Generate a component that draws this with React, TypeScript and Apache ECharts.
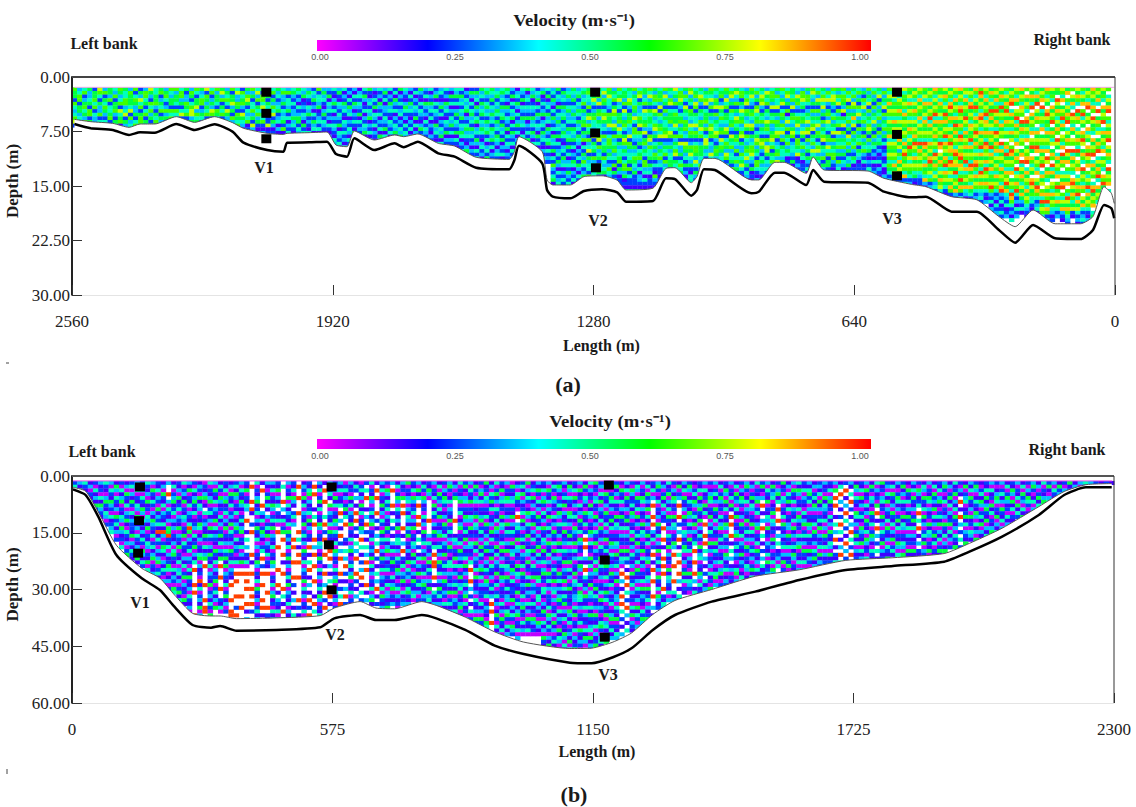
import React, { useEffect, useRef } from "react";
import * as echarts from "echarts";

const SERIF = '"Liberation Serif", serif';

// ---- axes ----
const depthStepA = 7.5;
const depthStepB = 15;
const lengthStepA = 640;
const lengthStepB = 575;
const depthMaxA = 30;
const depthMaxB = 60;
const lengthMaxA = 2560;
const lengthMaxB = 2300;
const scaleTicks = ["0.00", "0.25", "0.50", "0.75", "1.00"];

// ---- panel (a): bed profile ----
const bedLenA = [2554,2514,2460,2420,2393,2357,2304,2259,2210,2166,2139,2081,2041,2032,1978,1934,1912,1885,1867,1818,1768,1746,1711,1661,1621,1568,1487,1474,1463,1406,1394,1380,1337,1303,1259,1222,1200,1134,1102,1080,1040,1026,1009,982,892,874,835,812,758,741,714,606,567,500,464,401,339,285,245,201,147,85,54,27,9,2];
const bedDepthA = [6.47,7.06,7.29,7.98,7.61,7.66,6.47,7.29,6.51,7.52,9.04,10.05,10.27,9.04,8.99,8.9,10.6,10.96,8.44,10.05,9.13,9.68,8.9,10.5,10.96,12.48,12.7,11.42,9.45,11.88,15.55,16.47,16.7,15.69,15.46,15.87,17.16,17.06,13.94,14.04,16.33,15.55,12.7,12.8,16.0,15.78,13.16,13.16,14.86,12.8,14.4,14.54,15.78,16.56,16.47,18.53,18.53,21.05,22.8,20.37,22.2,22.3,21.05,17.6,18.07,19.45];
const edgeDepthA = [5.83,6.15,6.38,6.93,6.47,6.47,5.46,6.24,5.46,6.28,7.06,7.75,7.9,7.75,7.66,7.57,9.36,9.59,7.43,8.67,7.98,8.21,7.84,9.13,9.5,11.05,11.33,10.27,8.21,10.27,14.17,14.86,14.86,13.7,13.6,14.2,15.55,15.3,12.57,12.48,14.54,13.7,11.2,11.2,14.17,14.17,11.74,11.74,13.25,11.0,12.8,12.94,13.94,14.77,15.1,16.47,16.9,19.2,20.6,18.3,20.2,20.2,19.2,15.1,16.0,17.4];

// ---- panel (b): bed profile ----
const bedLenB = [2,30,58,98,154,194,226,266,307,327,363,451,548,579,636,671,712,772,804,868,933,997,1099,1147,1194,1235,1282,1331,1412,1508,1605,1708,1812,1925,1981,2053,2134,2190,2238,2295];
const bedDepthB = [3.52,5.02,10.75,20.88,27.05,30.13,34.54,39.38,40.08,39.65,40.88,40.7,40.0,37.62,36.74,38.06,38.06,36.74,37.62,40.7,44.84,47.05,49.34,49.5,47.9,45.55,40.7,36.74,33.2,30.57,27.5,24.84,23.79,22.64,20.0,16.03,10.3,5.02,3.0,3.0];
const edgeDepthB = [3.0,4.0,9.5,18.3,24.4,27.0,31.4,36.3,37.0,37.0,37.7,37.5,36.9,34.9,33.2,34.9,35.1,33.2,34.2,37.3,41.2,43.9,45.6,45.5,43.9,41.5,36.6,32.9,30.0,26.5,24.8,22.3,21.6,20.5,17.8,13.8,8.1,4.1,2.3,2.0];

// ---- sampling stations ----
const stationsA = [[2083,2.1],[2083,5.0],[2083,8.5],[1276,2.1],[1276,7.7],[1274,12.5],[535,2.1],[535,7.9],[535,13.6]];
const stationsB = [[150,2.9],[148,11.8],[146,20.4],[573,2.9],[567,18.2],[573,30.1],[1185,2.4],[1176,22.2],[1176,42.6]];
const surfaceA = [[2554,1.42],[2,1.42]];
const surfaceB = [[2,1.3],[2296,1.3]];

// ---- velocity cells, one token per vertical, top to bottom, ten verticals a line.
// digit d is the decile of speed (0 = 0.0-0.1 m/s ... 9 = 0.9-1.0 m/s); "." = no data
const cellsA = `
65526434672 34662553421 46235645362 53345266251 25564624335 76425336244 36254653241 55362445623 43625563254 65346274561
54466347253 36555472634 62465335246 25374625664 36645246253 75326463527 44556325462 56235462534 35642363526 64355264632
63554264352 46635247261 52336546253 36524677352 64255736452 53466235425 72653546235 46235376254 63554265345 57362546241
35464275346123 62557352634121 47336526546231 26456327543125 53675243461235 63524463527341 47362546352134 52664735462132 63525436227123 46253647253121
53423452341312 46335243452612 36244352413241 45324233534213 54231423552431 43512324315242 35421435232143 24352314253412 62443512342413 35342135243212
325143423142132415 421352413243214321 352143243251432411 413253421432423142 231425341324314233 314253132421531424 134243251423231422 425312413243513243 521342435132413214 312425143241321432
4231532413241532 3524133243251423 4132534214324121 2415324132435141 5132423413243514 4321354231424352 3142534213241353 2413243251413241 5321424321352431 3241532314243252
413253424132132413241 235142432153421432134 342135241324351423514 423153421432513241521 315241324352413214533 435241352432514213242 425342435243541324312 132434513245342135421 253142453425342313241 253415324513425314243
534253452435421342311 453245342534524134252 543524353425435241323 345243542534254313421 453425345253425132412 542315324325142431321 325142435142532414233 134253142352413242132 432514325342143214321 513424325132425314214
435124325342531424133 243514253243152413241 351242351342534213241 425134253415324514232 342531425324153425142632451 524315243534251423425314234 253425345243542134253413242 345324533425345252413425324 543524353425435241325413241 345243542534254313242531423
453462534562536142536423532143 564436257364526347253442612143 365742356443672545263524412143 546372563544367263452635222143 473652467534263455264345122143 657443265573246653542364322143 354625764375263456342615232143 645734255637462534456253122143 455362743564257635424663512143 544763255643372653445262422143
635446537426643253465435222143 467253346572643524563241332143 553462744563725635426634142143 647352645543267364452534122143 536642753467352453652421632143 455637264356472535463422122143 637452635445672354626343122143 543672455634762353445526322143 745362465574263546725443132143 466753245635462733524645212143
53642754365634276534252311 67354265437465236574352144 45637625447365246653742532 54763254365746235554363412 35467245563624775342643214 65473625346756243374562321 54365726354476325653473412 45623754643562746534326315 65374625543762465376244232 46735264456327546344526251
57436253764525643624635231 46625374563467253364574212 35467265347526435647352431 65743256437625346674325121 46352674563245763542664213 54767325463542676324534312 37546254375642637752434221 46653725463356746254635312 53644725365476234563741231 64357246536473625443552312
46735261473625463541234121 55463725643576234432511245 43756324657342665471232413 36674524563475246354122413 53664235473672634525324133 67435263546725463745234132 46375263547365246735412323 54674735263546725436253123 36473256374425637462552432 64775324635472635466321244
53647263546273546352634412 64665371547263546352431342 36472635463527463524352123 54637635847263546325412132 46352647352635462543122413 35264735463526354632412134 63547263546752634521324312 46352635473526354231412341 54726354635263452312413214 36354726354635241231241132
64758576475658476576465423132 65746576485765476576485762134 56476586475764857364857642312 74657648576576485796576482413 65748576475864759657476542312 57647586475768597648576452132 76485765847576495867576432214 65748657486576498576485648312 57648576948576486758965746231 86475769485768576497586475342
65748657486576498.75864758674234 75864759685769486758694867542132 57648975864758697864985747586213 76485764859685764896785946758321 85764896758649857689587469586243 67485765976485768576948467584312 57648957648756948576498576485423 86475964857697586475896485764231 69857648976485769485764975864342 76485769487586498675849675864213
58647596857486759486758465796324132423 67584697586497586847576485764231423314 75864957648576.948576485764893241242 64758697586475.684957648679584324123 57689.485764857.69857648.576498642314 76485.7694857648.7586.94758694231423 85764876.9586476.58.947586475853241 6.85764.8957648.57689.48576485764321 758649.857648.7695.86475.8975644213 64859.7586.4857698.57648.75986423412
5768.9457648.576485769.4857.68495764242 86475.897564857648.97.5864.75869486231 7564.85769.58647.586.9485.76485764312 65.9758647586.975.4857648.6957485423 7648.5769485.7648.9586.47589.64758321 58.6475869.47586.9758.64758.6497586432 6.7584.976485.76.9485764.89758645721 75864.9586.47586495.768.47586948574231 64758.69475.8697.5864.9576486.75842342 576489.576.8475.869758.64759485764213
8675486.97564.85769.48576.4895768.45 67584.9.58647.5869.4758694.85764.83 7564.85769.4857648.5764.8695.74864 6.47589.6475869.75864.95768.47586324
`;
const cellsB = `
24 315 4213 130214 20413152 3120415321 421035214302 30421532041234 1530421305241302 204135021430531204
13052140325104213025 240315204132215031421 3140214305213042130251 21304215304213142053142 421305120431502143021504 3052142031532140241350213 21403205132419142031350241 1305214032141930254103142031 3..9.3042130559214031254013021 140235124031302130452104132054
21305124032150321502140341302514 402315021430215042103140250312051 31502140321495031240320415213042130 2041352140123041250314.9...9.9.....9 132051430215401302145031209140231503 0213501.4023115204135.9....9...9.99 402135024130514203152140321502314205 3052140321504132105214031250241305 142053120413025140315.9..9..9..2140 21403512403150213042515032140251302
13052140231504213052140321.9...9..99.2 24153021401352041320140.9.9...9..2.9.1 30421531024135021403150.9.....9..9...4 21502143..9..1.4.3.2140.9.9.9...9.1.32 .9...9.91..2.9.....9.1..9...9.9.9.2... 40213512403152140302153021405213024132 1.9...9.31402531024.9.2.9..9...9.9.1.4 31025141.30241503214021.9....9...9.21.4 31402153024150321402153.0214035120413 2150314.2140.9...9.....9...9.1.32140351
.4...9.3.14025.9...9.1..9...9.4.1.9.3.2 30215041321405231402513024150321403125.3 2140531.2403...9.9...9...9.2.1.3.1.4023 .9..9...9....9.4.1.9.9...9.....9.2.1.4. 1320514032150241305214032150413021403251 2145031240513021.9.1.4.9.1.3.1.9.2.9.1.4 .9.9...1.4.9...9.3.9..9...9...1.9.4.2.1 31402514021530214301520413024153021402 1.9..9...4.9.2.9...9..1.9..3.9.2.9...9 30241.50321405213.9.9.3.1.4.2.9.1.3.2.1
2130514021530421405312041350241302140 3140214.9.3.1.9.2.3.9...9.1.2.4.9.1.3 0241302514.9...21.4.3.9.2.1.3.9.2.1.4 31205140321502140351024135021402150 142.3.1.9.9.2.1.4.3.9...9.2.1.3.4.2 02413051402153.9.4.1.2.3.9.1.4.2.1 2.4.9..1.3.9.2.1.4.3.9.9...9.1.3.4 402153024135021402315041302140351 1.9.9...9.2.1.3.4.9.2.1.4.3.9.1.2 3140215130420514203152140321405213
2053142403115204135031240214033125 3.9...9.1.4.2.1.31402512041350213 1402530421315024413042153102403120 31205.9.9...9.1.3.9.2140325104123 502134031431425021311504230145213 21405312403150214305142031521340 30514.9..9.9.1.4.2.14031502413021 14205312041305124031502140352132 21530.....9...3042130514203150341 302140514203152014.9.99..9.1.4213
14052304150213502413052140315241302 20315420130521403215024130521320412 35201403215024130520144032131502413 13025.....9...143021504130241503214052 40213502401350214052314025134021350213 25103402153024150312405130241350412031 3042150214305120431204.9..9.3.2.1.4021305 15203401250431205140321405121304213052 20351402135024130514203514031220413052134 51204302140521304251031420531240132105421
1304251402130514023150421302413.9.9..9..142 40251304214053120514032150140241301520413 21503412051430214051304215302120413052140 30215402130514203150214305214133014520413 05213402150314205134021530412215031420532 13045210.9.3421504312051430215024135021403 24150312405130241503214052132140351204130 50314201530421502143051204151320413052140 12405130421503140251304215032301412053120 31520413052140312504130215402144031205310
214035204130521430512403512044103152041305214 305214031502413052140310524130221405314203152 142053120413052140513024215034030214051302415 253102415304213051403210524131352041320514302 310241503124051230421503215041425031402153041 153042105413025140312504130251212053140231504 214051302410532150413021504312330415021403125 305120413052140531204153021405441302140521320 15204310521402.9.9..31.9.4213052140312041530 403120514302153041205140321504320415213405132
51203412051304215031240531025142130521403125 23041503214052130421504213021405132014520341 1405213052140315024130521403152402150341205 310254130251402153042130521403124013502413 251304120514302143051240315021330421502143 10521403152140312051430.9.3.1.9.9.4.2.1.3 3140521302514031205142.1.9.9.4.2.9.3.1.4 2053124153021405130421305124031204150321 143052140513024150321405213042130514203 30215403120514302150413021405132104253
1405231504130251402135021430512403125 21403.9..9.9.31402.9.1.9..9...9..3.1 3520140213052140315024130521405312 13025140312.9..9.1..9.9.9...9.2143 41250314052130421503120514321403 203154120514302153.9..9...9..413 15023.9..9.2.3.9.1.4.9..9.3.1.42 314052130512043125401302514021 253014215304130512403120514320 10241530241503124.9..9..9.3.14
214051352150314205134021530412 3041205140.9..9.9.4.3.1.2.413 20135402150314205130213041205 3024130521403120514213014503 1402531204135024130214035102 2153051402153042130531240132 30214051.9.9..9.1.4.3.13021 140523041502135024132014503 20315420130521403215132014 35201403215024130520214301
13025143021504130241302514 4021350240135021405213041 25103.9.1.3.9.4.1.2.3.412 3042150214305120321405123 1523401250431205130214053 203514.9..9.1.3.4.12304 512043021405213124031502 130425140213305214031250 305214032140513024153021 415302140531204135021403
214032104135024130521403 31452403021530412051320 13024153021405213042513 23140513024150312405132 3120514321403052140312 2140351204130521430512 305.9.9..1.4.3.9.1.214 14.9.3.1.2.9.4.1.3.9.4 2.9.1.3.9.4.2.1.9.3.2 31.4.9.2.1.3.9.4.2.9.
153042105413025140312 214051302410532150413 305120413052140531204 152043105214025310421 4031205.9.1.9.3.2.4.1 512034120513042150312 230415032140521304215 14052130521403150241 31025413025140215304 25130412051430214305
10521403152140312051 31405213025140312051 2053124.9.4.9.1.3.21 14305214051302415032 30215403120514302150 14052315041302514021 21403510241503140251 3520140213052140315 130251403125041302 412503140521304215
2031.9.1.9.3.2.4.2 15023401251403215 3140521305120431 2530142153041305 102415302415031 214051352150314 30412051402135 20135402150314 3024130521403 140253120413
21530514021 3021405142 1405230415 203154201 35201403 1302514 402135 251034 30421 1523
203 512 130 30 41 3 2 1 2 1
`;

const token = (s: string) => s.trim().split(/\s+/);
const columnsA = token(cellsA);
const columnsB = token(cellsB);

function buildCells(cols: string[], firstLen: number, stepLen: number, top: number, stepDepth: number) {
  const out: number[][] = [];
  cols.forEach((col, i) => {
    for (let j = 0; j < col.length; j++) {
      if (col[j] === ".") continue;
      out.push([firstLen + stepLen * i, top + stepDepth * (j + 0.5), (Number(col[j]) + 0.5) / 10]);
    }
  });
  return out;
}
const zip = (a: number[], b: number[]) => a.map((v, i) => [v, b[i]]);

const text = (s: string, x: number, y: number, font: string, fill = "#1a1a1a", extra: any = {}) => ({
  type: "text", x, y, z: 20,
  style: { text: s, font, fill, align: "center", verticalAlign: "middle" },
  ...extra,
});
const frame = (x1: number, y1: number, x2: number, y2: number, stroke: string, lineWidth: number) => ({
  type: "line", z: 20, shape: { x1, y1, x2, y2 }, style: { stroke, lineWidth },
});

export default function App() {
  const ref = useRef<HTMLDivElement>(null);
  useEffect(() => {
    if (!ref.current) return;
    const chart = echarts.init(ref.current, null, { renderer: "svg" });

    const cellRender = (stepL: number, stepD: number) => (_: any, api: any) => {
      const p = api.coord([api.value(0), api.value(1)]);
      const s = api.size([stepL, stepD]);
      return {
        type: "rect",
        shape: { x: p[0] - s[0] / 2, y: p[1] - s[1] / 2, width: s[0] + 0.3, height: s[1] + 0.3 },
        style: { fill: api.visual("color") },
      };
    };

    const mainX = (g: number, max: number, inverse: boolean, step: number, pad: number, gap: number) => ({
      type: "value", gridIndex: g, min: 0, max, interval: step, inverse, z: 10, position: "bottom",
      name: "Length (m)", nameLocation: "middle", nameGap: gap,
      nameTextStyle: { fontFamily: SERIF, fontWeight: "bold", fontSize: 16, color: "#1a1a1a", padding: [0, 0, 0, pad] },
      axisLine: { onZero: false, lineStyle: { color: "#e4e4e4", width: 1 } },
      axisTick: { inside: true, length: 10, lineStyle: { color: "#333", width: 1 } },
      axisLabel: { margin: 18, fontFamily: SERIF, fontSize: 17, color: "#222", formatter: (v: number) => String(v) },
      splitLine: { show: false },
    });
    const mainY = (g: number, max: number, step: number) => ({
      type: "value", gridIndex: g, min: 0, max, interval: step, inverse: true, z: 10, position: "left",
      name: "Depth (m)", nameLocation: "middle", nameGap: 41, nameRotate: 90,
      nameTextStyle: { fontFamily: SERIF, fontWeight: "bold", fontSize: 17, color: "#1a1a1a", padding: [0, 0, 0, 10] },
      axisLine: { onZero: false, lineStyle: { color: "#222", width: 2 } },
      axisTick: { inside: true, length: 10, lineStyle: { color: "#333", width: 1 } },
      axisLabel: { margin: 2, fontFamily: SERIF, fontSize: 17, color: "#222", formatter: (v: number) => v.toFixed(2) },
      splitLine: { show: false },
    });

    const panelSeries = (
      g: number, cells: number[][], stepL: number, stepD: number,
      lens: number[], bed: number[], edge: number[], stations: number[][], surface: number[][], surfaceColor: string,
    ) => [
      { type: "custom", xAxisIndex: g, yAxisIndex: g, data: cells, encode: { x: 0, y: 1 }, z: 1, silent: true, renderItem: cellRender(stepL, stepD), clip: true },
      { type: "line", xAxisIndex: g, yAxisIndex: g, data: zip(lens, edge), z: 3, symbol: "none", silent: true, smooth: 0.2,
        lineStyle: { color: "#555", width: 1 }, areaStyle: { color: "#fff", opacity: 1, origin: "end" } },
      { type: "line", xAxisIndex: g, yAxisIndex: g, data: zip(lens, bed), z: 4, symbol: "none", silent: true, smooth: 0.2,
        lineStyle: { color: "#000", width: 2.5 } },
      { type: "line", xAxisIndex: g, yAxisIndex: g, data: surface, z: 4, symbol: "none", silent: true,
        lineStyle: { color: surfaceColor, width: 1 } },
      { type: "scatter", xAxisIndex: g, yAxisIndex: g, data: stations, z: 5, symbol: "rect", symbolSize: [10, 9], silent: true,
        itemStyle: { color: "#000", opacity: 1 } },
    ];

    const palette = ["#ff00ff", "#0000ff", "#00ffff", "#00ff00", "#ffff00", "#ff0000"];
    const visual = (series: number) => ({
      type: "continuous", show: false, seriesIndex: series, dimension: 2, min: 0, max: 1, inRange: { color: palette },
    });
    const colourBar = (y: number, h: number) => ({
      type: "rect", z: 20, shape: { x: 317, y, width: 554, height: h },
      style: {
        fill: new echarts.graphic.LinearGradient(0, 0, 1, 0,
          palette.map((color, i) => ({ offset: i / (palette.length - 1), color }))),
      },
    });

    const scaleX = [320, 455, 590, 725, 860];
    const SMALL = '9px "Liberation Sans", sans-serif';
    const BOLD = `bold 16px ${SERIF}`;
    const TITLE = `bold 17px ${SERIF}`;

    chart.setOption({
      animation: false,
      backgroundColor: "#fff",
      grid: [
        { left: 72, top: 77, width: 1043, height: 218, outerBoundsMode: "none" },
        { left: 72, top: 476, width: 1042, height: 227, outerBoundsMode: "none" },
      ],
      xAxis: [mainX(0, lengthMaxA, true, lengthStepA, 16, 42), mainX(1, lengthMaxB, false, lengthStepB, 8, 40)],
      yAxis: [mainY(0, depthMaxA, depthStepA), mainY(1, depthMaxB, depthStepB)],
      visualMap: [visual(0), visual(5)],
      series: [
        ...panelSeries(0, buildCells(columnsA, 2554, -12.5, 1.42, 0.5), 12.5, 0.5, bedLenA, bedDepthA, edgeDepthA, stationsA, surfaceA, "#f2a6e6"),
        ...panelSeries(1, buildCells(columnsB, 6, 11.5, 1.3, 1.0), 11.5, 1.0, bedLenB, bedDepthB, edgeDepthB, stationsB, surfaceB, "#f050e8"),
      ],
      graphic: [
        frame(72, 77, 1115, 77, "#444", 2),
        frame(1115, 77, 1115, 295, "#333", 1),
        frame(72, 476, 1114, 476, "#555", 2),
        frame(1114, 476, 1114, 703, "#333", 1),
        colourBar(40, 11),
        colourBar(439, 10),
        text("Velocity (m·s⁻¹)", 574, 20, TITLE, "#1a1a1a", { scaleX: 1.1 }),
        text("Velocity (m·s⁻¹)", 610, 421, TITLE, "#1a1a1a", { scaleX: 1.1 }),
        text("Left bank", 104, 43, BOLD),
        text("Right bank", 1072, 39, BOLD),
        text("Left bank", 102, 451, BOLD),
        text("Right bank", 1067, 449, BOLD),
        ...scaleTicks.map((t, i) => text(t, scaleX[i], 57, SMALL, "#555")),
        ...scaleTicks.map((t, i) => text(t, scaleX[i], 456, SMALL, "#555")),
        text("V1", 264, 167, BOLD),
        text("V2", 598, 220, BOLD),
        text("V3", 892, 218, BOLD),
        text("V1", 140, 602, BOLD),
        text("V2", 335, 634, BOLD),
        text("V3", 608, 674, BOLD),
        text("(a)", 568, 384, `bold 22px ${SERIF}`),
        text("(b)", 574, 794, `bold 22px ${SERIF}`),
        frame(6, 363, 9, 363, "#444", 1),
        frame(7, 769, 7, 774, "#444", 1),
      ],
    });
    return () => chart.dispose();
  }, []);
  return <div ref={ref} style={{ position: "fixed", left: 0, top: 0, width: 1136, height: 807 }} />;
}
